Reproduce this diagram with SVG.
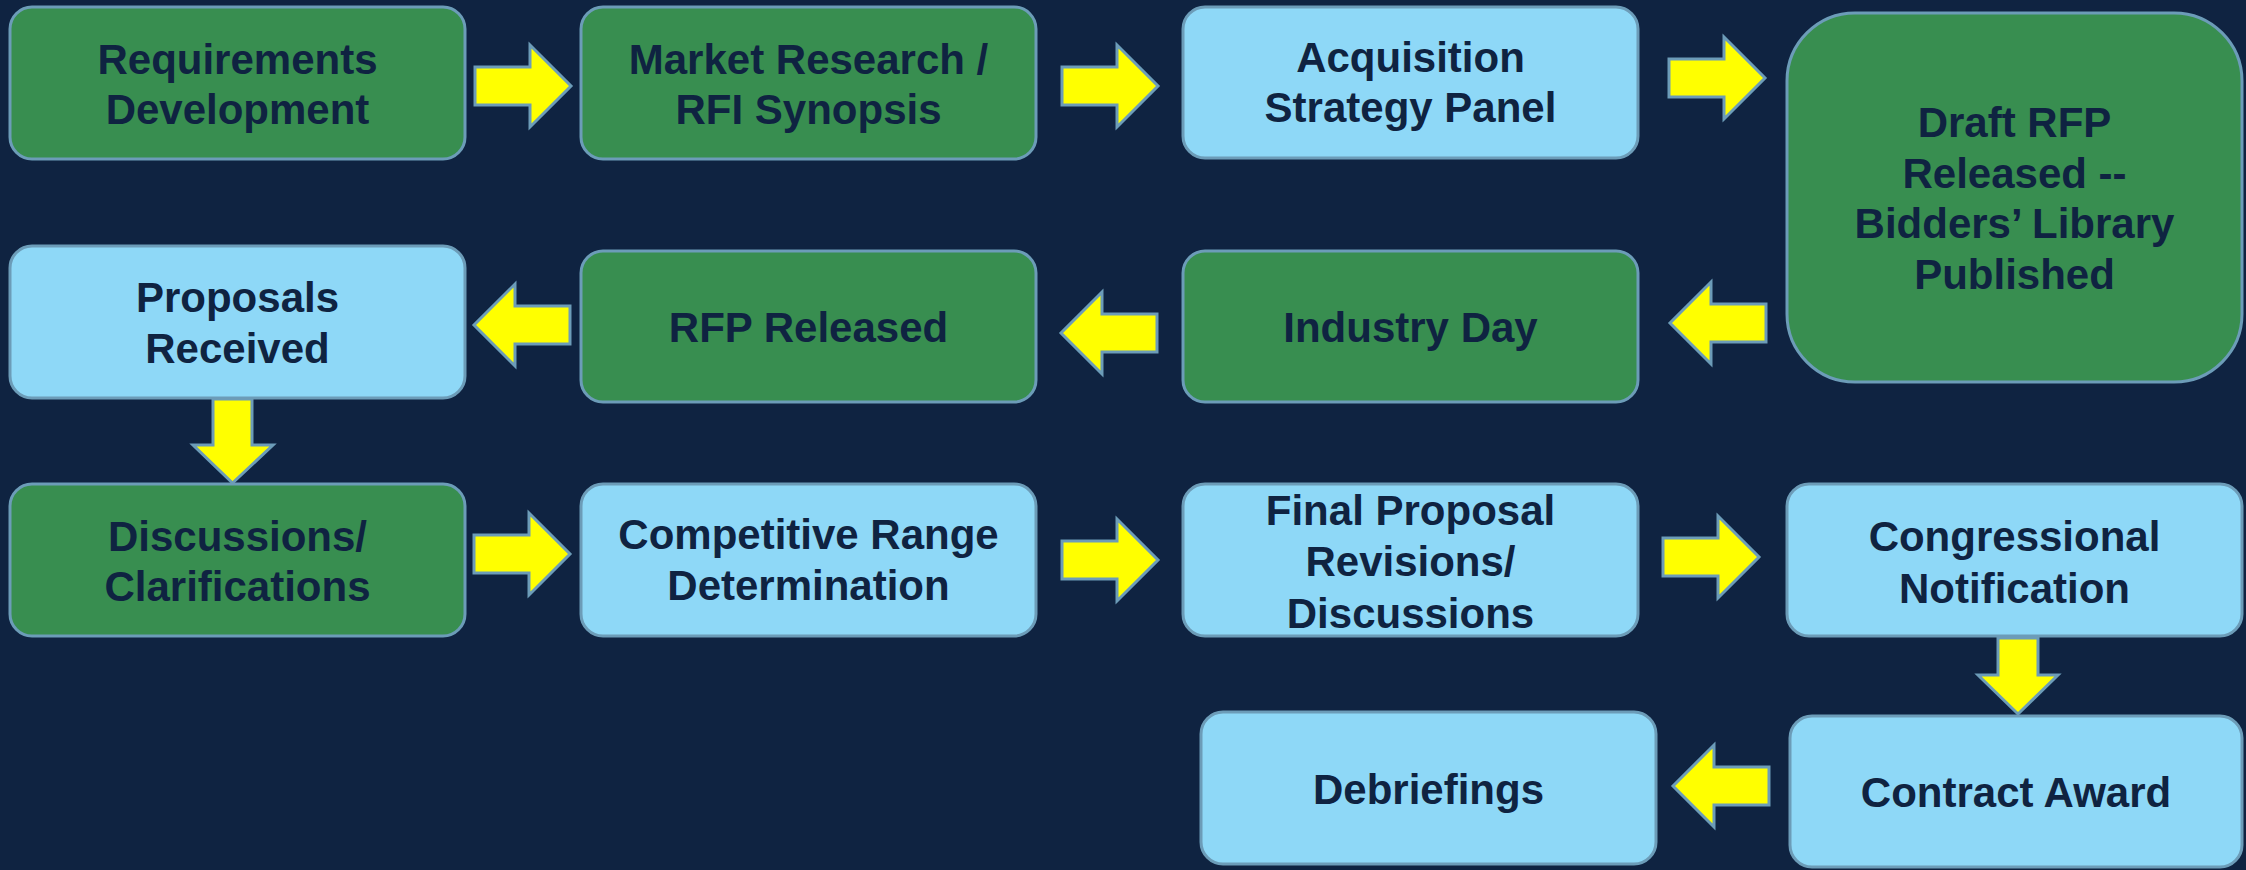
<svg xmlns="http://www.w3.org/2000/svg" xmlns:xlink="http://www.w3.org/1999/xlink" width="2246" height="870" viewBox="0 0 2246 870">
<style>
.g{fill:#388E50;stroke:#6C9CB8;stroke-width:3}
.b{fill:#8ED8F7;stroke:#6C9CB8;stroke-width:3}
.t{font-family:"Liberation Sans",Arial,sans-serif;font-weight:bold;font-size:42px;fill:#0F2341;text-anchor:middle}
.ar{fill:#FFFF00;stroke:#6C9CB8;stroke-width:3;stroke-linejoin:miter}
</style>
<defs>
<path id="arrR" d="M-48,-19 H7 V-41 L48,0 L7,41 V19 H-48 Z"/>
</defs>
<rect width="2246" height="870" fill="#0F2341"/>

<g id="connectors">
<use href="#arrR" class="ar" transform="translate(523,86)"/>
<use href="#arrR" class="ar" transform="translate(1110,86)"/>
<use href="#arrR" class="ar" transform="translate(1717,78)"/>
<use href="#arrR" class="ar" transform="translate(1718,323) rotate(180)"/>
<use href="#arrR" class="ar" transform="translate(1109,333) rotate(180)"/>
<use href="#arrR" class="ar" transform="translate(522,325) rotate(180)"/>
<path class="ar" d="M213,399 H252 V445 H273 L232.5,483 L193,445 H213 Z"/>
<use href="#arrR" class="ar" transform="translate(522,554)"/>
<use href="#arrR" class="ar" transform="translate(1110,560)"/>
<use href="#arrR" class="ar" transform="translate(1711,557)"/>
<path class="ar" d="M1998,638 H2038 V675 H2058 L2018,714 L1978,675 H1998 Z"/>
<use href="#arrR" class="ar" transform="translate(1721,786) rotate(180)"/>
</g>

<g id="n1"><rect class="g" x="10" y="7" width="455" height="152" rx="22"/>
<text class="t" x="237.5" y="74">Requirements</text><text class="t" x="237.5" y="124">Development</text></g>

<g id="n2"><rect class="g" x="581" y="7" width="455" height="152" rx="22"/>
<text class="t" x="808.5" y="74">Market Research /</text><text class="t" x="808.5" y="124">RFI Synopsis</text></g>

<g id="n3"><rect class="b" x="1183" y="7" width="455" height="151" rx="22"/>
<text class="t" x="1410.5" y="72">Acquisition</text><text class="t" x="1410.5" y="122">Strategy Panel</text></g>

<g id="n4"><rect class="g" x="1787" y="13" width="455" height="369" rx="68"/>
<text class="t" x="2014.5" y="137">Draft RFP</text><text class="t" x="2014.5" y="188">Released --</text><text class="t" x="2014.5" y="238">Bidders’ Library</text><text class="t" x="2014.5" y="289">Published</text></g>

<g id="n5"><rect class="b" x="10" y="246" width="455" height="152" rx="22"/>
<text class="t" x="237.5" y="312">Proposals</text><text class="t" x="237.5" y="363">Received</text></g>

<g id="n6"><rect class="g" x="581" y="251" width="455" height="151" rx="22"/>
<text class="t" x="808.5" y="342">RFP Released</text></g>

<g id="n7"><rect class="g" x="1183" y="251" width="455" height="151" rx="22"/>
<text class="t" x="1410.5" y="342">Industry Day</text></g>

<g id="n8"><rect class="g" x="10" y="484" width="455" height="152" rx="22"/>
<text class="t" x="237.5" y="551">Discussions/</text><text class="t" x="237.5" y="601">Clarifications</text></g>

<g id="n9"><rect class="b" x="581" y="484" width="455" height="152" rx="22"/>
<text class="t" x="808.5" y="549">Competitive Range</text><text class="t" x="808.5" y="600">Determination</text></g>

<g id="n10"><rect class="b" x="1183" y="484" width="455" height="152" rx="22"/>
<text class="t" x="1410.5" y="525">Final Proposal</text><text class="t" x="1410.5" y="576">Revisions/</text><text class="t" x="1410.5" y="628">Discussions</text></g>

<g id="n11"><rect class="b" x="1787" y="484" width="455" height="152" rx="22"/>
<text class="t" x="2014.5" y="551">Congressional</text><text class="t" x="2014.5" y="603">Notification</text></g>

<g id="n12"><rect class="b" x="1790" y="716" width="452" height="151" rx="22"/>
<text class="t" x="2016" y="807">Contract Award</text></g>

<g id="n13"><rect class="b" x="1201" y="712" width="455" height="152" rx="22"/>
<text class="t" x="1428.5" y="804">Debriefings</text></g>
</svg>
